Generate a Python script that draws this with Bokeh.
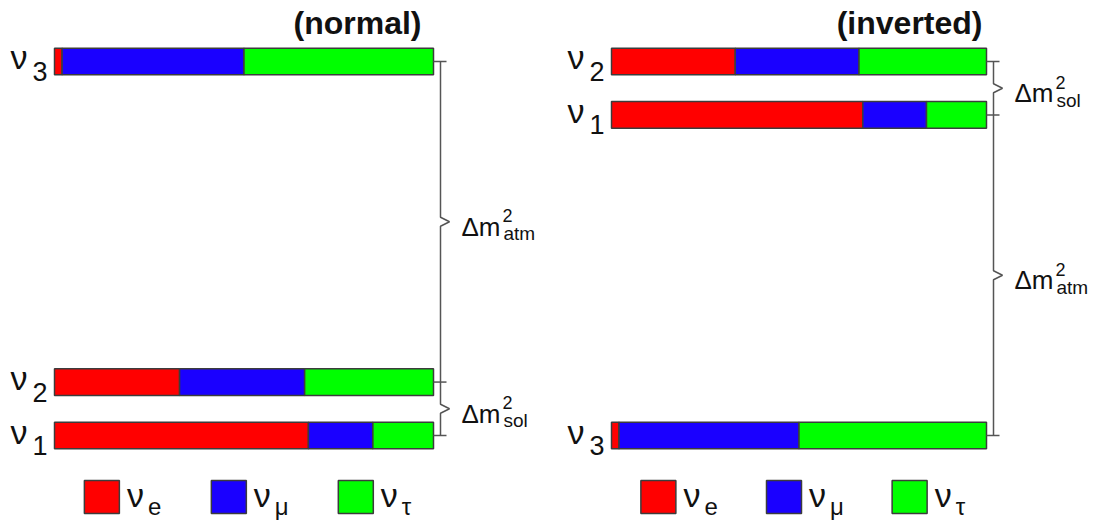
import numpy as np
from bokeh.plotting import figure
from bokeh.models import Range1d, ColumnDataSource
from bokeh.layouts import row
from bokeh.embed import file_html
from bokeh.resources import INLINE
from bokeh.core.properties import value

# ---------------- data ----------------
states = ["1", "2", "3"]
flavors = ["e", "μ", "τ"]
flavor_colors = ["#ff0000", "#1a00ff", "#00ff00"]

# flavour content (nu_e, nu_mu, nu_tau) of each mass eigenstate
nu1_content = [0.67, 0.17, 0.16]
nu2_content = [0.33, 0.33, 0.34]
nu3_content = [0.02, 0.48, 0.50]

# schematic mass-squared levels of nu1, nu2, nu3
normal_levels = [0, 1, 7]
inverted_levels = [6, 7, 0]

titles = ["(normal)", "(inverted)"]
splitting_names = ["sol", "atm"]

# legend placement (in bar-fraction units) and level
legend_pos = [0.125, 0.46, 0.795]
legend_level = -1.15

# ---------------- layout constants ----------------
FONT = "Liberation Sans"
W, H = 549, 522
UNIT_Y = 53.43   # px per level unit
Y0_PX = 435      # px (from top) of level 0
LINE_C = "#555555"
EDGE_C = "#3c3c3c"
TXT_C = "#111111"
DY = -8          # global vertical text correction (px)


def txt(p, x, y, text, xo, yo, size, style="normal", align="left"):
    p.text(x=x, y=y, text=text, x_offset=xo, y_offset=yo + DY,
           text_font=value(FONT), text_font_size=size, text_font_style=style,
           text_align=align, text_baseline="alphabetic", text_color=TXT_C)


def make_panel(levels, title, bar_left_px, bar_width_px, title_shift):
    ux = float(bar_width_px)
    xr = Range1d(-bar_left_px / ux, (W - bar_left_px) / ux)
    yr = Range1d(-(H - Y0_PX) / UNIT_Y, Y0_PX / UNIT_Y)
    p = figure(width=W, height=H, x_range=xr, y_range=yr,
               output_backend="svg", toolbar_location=None, min_border=0)
    p.axis.visible = False
    p.grid.visible = False
    p.outline_line_color = None
    p.background_fill_color = "#ffffff"
    p.border_fill_color = "#ffffff"

    contents = [nu1_content, nu2_content, nu3_content]
    ys, lefts, rights, cols = [], [], [], []
    for i, lev in enumerate(levels):
        cum = np.cumsum([0.0] + contents[i])
        for j in range(3):
            ys.append(lev)
            lefts.append(cum[j])
            rights.append(cum[j + 1])
            cols.append(flavor_colors[j])
    src = ColumnDataSource(dict(y=ys, left=lefts, right=rights, color=cols))
    p.hbar(y="y", left="left", right="right", height=0.5, fill_color="color",
           line_color=EDGE_C, line_width=1.5, source=src)

    # state labels
    txt(p, [0] * 3, levels, ["ν"] * 3, -44, 4, "34px")
    txt(p, [0] * 3, levels, states, -22, 18, "27px")

    # title
    txt(p, [1.0], [max(levels)], [title], title_shift, -30, "32px", "bold", "right")

    # brackets
    xb = 1.0 + 7 / ux
    kink = 9 / ux
    d = 4.5 / UNIT_Y
    l1, l2, l3 = levels
    near = l1 if abs(l1 - l3) < abs(l2 - l3) else l2
    pairs = [(l1, l2), (near, l3)]
    p.segment(x0=[1.0] * 3, x1=[1.0 + 13 / ux] * 3, y0=levels, y1=levels,
              line_color=LINE_C, line_width=1.5)
    for (a, b), name in zip(pairs, splitting_names):
        lo, hi = min(a, b), max(a, b)
        m = 0.5 * (lo + hi)
        p.line(x=[xb, xb, xb + kink, xb, xb], y=[lo, m - d, m, m + d, hi],
               line_color=LINE_C, line_width=1.5)
        txt(p, [xb], [m], ["Δm"], 21, 13, "26px")
        txt(p, [xb], [m], ["2"], 62, 2, "18px")
        txt(p, [xb], [m], [name], 63, 20, "19px")

    # legend
    p.rect(x=legend_pos, y=[legend_level] * 3, width=35, height=33,
           width_units="screen", height_units="screen",
           fill_color=flavor_colors, line_color=EDGE_C, line_width=1.5)
    txt(p, legend_pos, [legend_level] * 3, ["ν"] * 3, 25, 6, "34px")
    txt(p, legend_pos, [legend_level] * 3, flavors, 46, 18, "24px")
    return p


p1 = make_panel(normal_levels, titles[0], 54, 379, -12)
p2 = make_panel(inverted_levels, titles[1], 62, 375, -4)
layout = row(p1, p2, spacing=0)

open("out.html", "w").write(file_html(layout, INLINE))
